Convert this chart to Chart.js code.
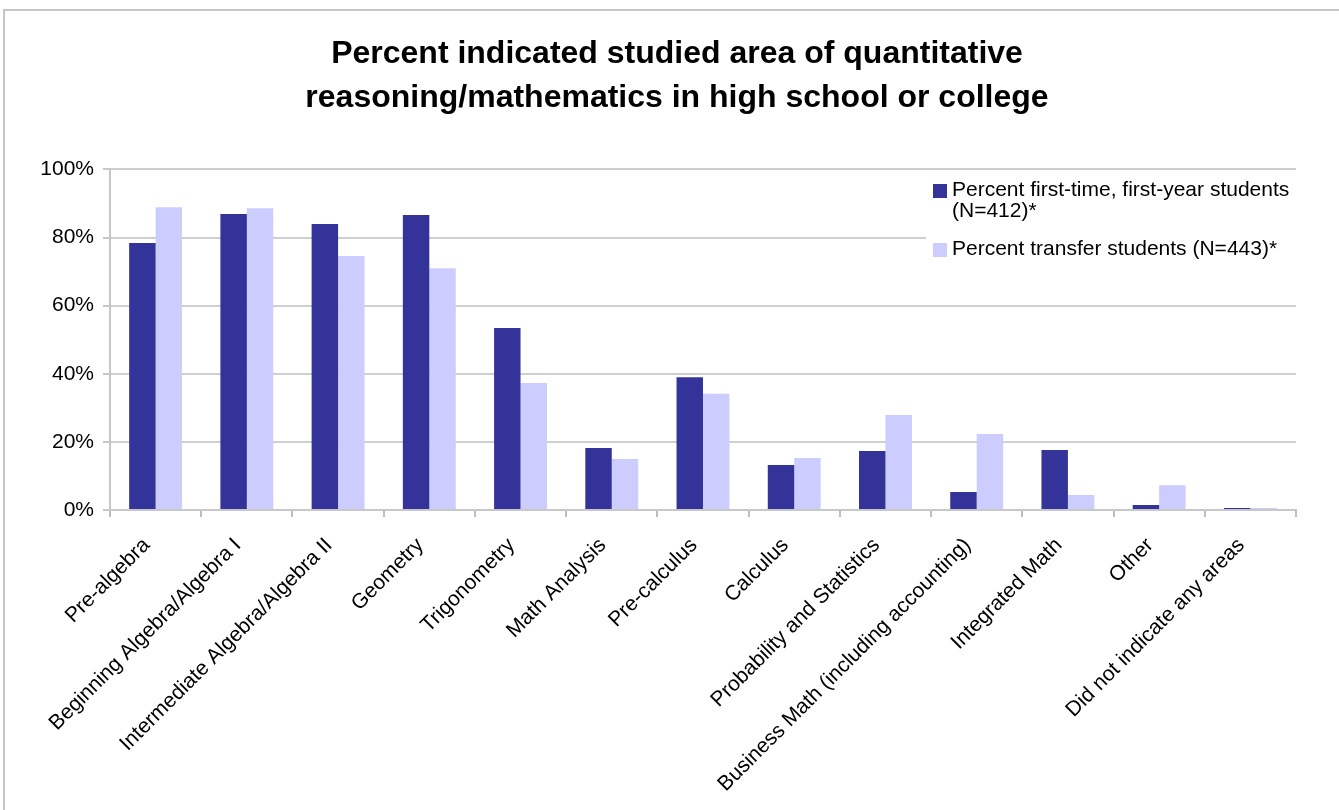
<!DOCTYPE html>
<html>
<head>
<meta charset="utf-8">
<script src="https://cdn.jsdelivr.net/npm/chart.js@4.4.1/dist/chart.umd.min.js"></script>
<style>
    html, body { margin: 0; padding: 0; background: #fff; }
    .wrap { position: relative; width: 1339px; height: 810px; }
    .frame {
        position: absolute; left: 3px; top: 9px; right: -4px; bottom: -4px;
        border-left: 2px solid #c6c6c6; border-top: 2px solid #c6c6c6;
        pointer-events: none;
    }
</style>
</head>
<body>
<div class="wrap">
    <canvas id="areasChart" width="1339" height="810"></canvas>
    <div class="frame"></div>
</div>
<script>
const titleLines = [
    'Percent indicated studied area of quantitative',
    'reasoning/mathematics in high school or college',
];

const categories = [
    'Pre-algebra',
    'Beginning Algebra/Algebra I',
    'Intermediate Algebra/Algebra II',
    'Geometry',
    'Trigonometry',
    'Math Analysis',
    'Pre-calculus',
    'Calculus',
    'Probability and Statistics',
    'Business Math (including accounting)',
    'Integrated Math',
    'Other',
    'Did not indicate any areas',
];

const seriesNames = [
    'Percent first-time, first-year students (N=412)*',
    'Percent transfer students (N=443)*',
];

const firstYear = [78.4, 86.9, 84.0, 86.6, 53.4, 18.2, 39.0, 13.2, 17.3, 5.3, 17.6, 1.5, 0.6];
const transfer = [88.9, 88.6, 74.6, 71.0, 37.3, 15.0, 34.1, 15.3, 27.9, 22.3, 4.4, 7.3, 0.6];

const yTicks = [0, 20, 40, 60, 80, 100];

const seriesColors = ['#333399', '#ccccff'];
const fontFamily = '"Liberation Sans", Arial, Helvetica, sans-serif';

// legend sits inside the plot area, top right, on a white box
const insideLegend = {
    id: 'insideLegend',
    afterLayout(chart) {
        // the title in the original is centred a little right of the canvas middle
        if (chart.titleBlock) {
            chart.titleBlock.left = 58;
        }
    },
    afterDatasetsDraw(chart) {
        const ctx = chart.ctx;
        const area = chart.chartArea;
        const boxLeft = 926;
        const textX = 952;
        const maxWidth = area.right - textX;
        ctx.save();
        ctx.fillStyle = '#ffffff';
        ctx.fillRect(boxLeft, area.top + 3, area.right - boxLeft + 1, 126);
        ctx.font = '21px ' + fontFamily;
        ctx.textBaseline = 'middle';
        ctx.textAlign = 'left';
        let y = 190.5;
        seriesNames.forEach((name, i) => {
            const words = name.split(' ');
            const lines = [];
            let line = '';
            words.forEach((word) => {
                const test = line ? line + ' ' + word : word;
                if (ctx.measureText(test).width > maxWidth && line) {
                    lines.push(line);
                    line = word;
                } else {
                    line = test;
                }
            });
            lines.push(line);
            ctx.fillStyle = seriesColors[i];
            ctx.fillRect(933, Math.round(y - 7), 14, 14);
            ctx.fillStyle = '#000';
            lines.forEach((text, k) => {
                ctx.fillText(text, textX, y + k * 20.5);
            });
            y += lines.length * 20.5 + 18;
        });
        ctx.restore();
    },
};

new Chart(document.getElementById('areasChart'), {
    type: 'bar',
    data: {
        labels: categories,
        datasets: [
            {
                label: seriesNames[0],
                data: firstYear,
                backgroundColor: seriesColors[0],
                borderWidth: 0,
                categoryPercentage: 0.58,
                barPercentage: 1.0,
            },
            {
                label: seriesNames[1],
                data: transfer,
                backgroundColor: seriesColors[1],
                borderWidth: 0,
                categoryPercentage: 0.58,
                barPercentage: 1.0,
            },
        ],
    },
    options: {
        responsive: false,
        animation: false,
        layout: {
            padding: { left: 0, right: 43, top: 0, bottom: 0 },
        },
        plugins: {
            legend: { display: false },
            tooltip: { enabled: false },
            title: {
                display: true,
                text: titleLines,
                color: '#000',
                font: { family: fontFamily, size: 32, weight: 'bold', lineHeight: 1.35 },
                padding: { top: 33, bottom: 50 },
            },
        },
        scales: {
            x: {
                offset: true,
                grid: {
                    display: true,
                    offset: true,
                    drawOnChartArea: false,
                    drawTicks: true,
                    tickLength: 7,
                    color: '#bdbdbd',
                    lineWidth: 2,
                },
                border: { color: '#c8c8c8', width: 2 },
                ticks: {
                    color: '#000',
                    font: { family: fontFamily, size: 21 },
                    maxRotation: 45,
                    minRotation: 45,
                    autoSkip: false,
                    padding: 16,
                    labelOffset: -9,
                },
                afterFit: (scale) => {
                    scale.height = 300;
                },
            },
            y: {
                min: 0,
                max: 100,
                afterBuildTicks: (scale) => {
                    scale.ticks = yTicks.map((value) => ({ value }));
                },
                grid: {
                    color: '#cfcfcf',
                    lineWidth: 2,
                    tickLength: 7,
                    tickColor: '#c8c8c8',
                },
                border: { color: '#c8c8c8', width: 2 },
                ticks: {
                    color: '#000',
                    font: { family: fontFamily, size: 21 },
                    padding: 9,
                    callback: (value) => value + '%',
                },
                afterFit: (scale) => {
                    scale.width = 110;
                },
            },
        },
    },
    plugins: [insideLegend],
});
</script>
</body>
</html>
